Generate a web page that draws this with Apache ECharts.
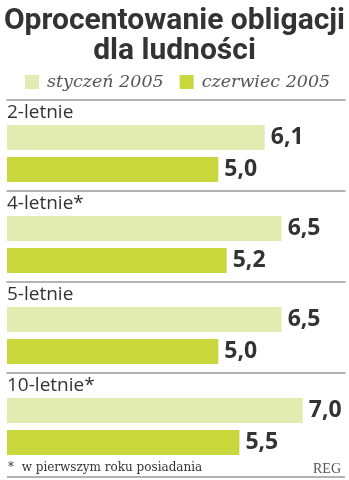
<!DOCTYPE html>
<html>
<head>
<meta charset="utf-8">
<script src="https://cdn.jsdelivr.net/npm/echarts@6/dist/echarts.min.js"></script>
<style>
  html, body { margin: 0; padding: 0; background: #fff; }
  #chart { width: 349px; height: 480px; }
</style>
</head>
<body>
<div id="chart"></div>
<script>
// Bond maturities and their rates (%)
const categories = ['2-letnie', '4-letnie*', '5-letnie', '10-letnie*'];
const seriesNames = ['styczeń 2005', 'czerwiec 2005'];
const january = [6.1, 6.5, 6.5, 7.0];
const june = [5.0, 5.2, 5.0, 5.5];

const colors = ['#e3ecb0', '#c8d83c'];
const textColor = '#333333';

// Layout of the stacked panels (one grid per maturity)
const panelLeft = 7;
const panelRight = 4;
const firstTop = 125;
const pitch = 91;
const barW = 25;
const panelH = 57;

const chart = echarts.init(document.getElementById('chart'));

const grids = [], xAxes = [], yAxes = [], series = [];
const fmt = p => p.value.toFixed(1).replace('.', ',');

categories.forEach((cat, i) => {
  grids.push({ left: panelLeft, right: panelRight, top: firstTop + i * pitch, height: panelH });
  xAxes.push({
    gridIndex: i, type: 'value', min: 0, max: 8, position: 'top', offset: 25,
    axisLine: { show: true, lineStyle: { color: '#9a9a9a', width: 1.5 } },
    axisTick: { show: false }, axisLabel: { show: false }, splitLine: { show: false }
  });
  yAxes.push({
    gridIndex: i, type: 'category', data: [cat], inverse: true,
    axisLine: { show: false }, axisTick: { show: false }, axisLabel: { show: false },
    name: cat, nameLocation: 'start', nameGap: 3,
    nameTextStyle: { align: 'left', verticalAlign: 'bottom', fontFamily: 'Open Sans', fontSize: 19, color: textColor, padding: 0 }
  });
  [january, june].forEach((arr, s) => {
    series.push({
      name: seriesNames[s], type: 'bar', xAxisIndex: i, yAxisIndex: i,
      data: [arr[i]], barWidth: barW, barGap: '28%',
      itemStyle: { color: colors[s] },
      label: { show: true, position: 'right', distance: 6, formatter: fmt,
        fontFamily: 'Noto Sans', fontWeight: 'bold', fontSize: 23, color: textColor },
      silent: true, animation: false
    });
  });
});

chart.setOption({
  animation: false,
  color: colors,
  title: [
    { text: 'Oprocentowanie obligacji\ndla ludności', left: 'center', top: 1,
      textStyle: { fontFamily: 'Roboto', fontWeight: 'bold', fontSize: 30, lineHeight: 30, color: textColor } },
    { text: '*  w pierwszym roku posiadania', left: 3, top: 457,
      textStyle: { fontFamily: 'DejaVu Serif', fontWeight: 'normal', fontSize: 12, color: textColor } },
    { text: 'REG', right: 3, top: 457,
      textStyle: { fontFamily: 'Liberation Serif', fontWeight: 'normal', fontSize: 14, color: '#555' } }
  ],
  legend: {
    data: seriesNames, left: 25, top: 73, padding: 0, icon: 'rect', itemWidth: 14, itemHeight: 14, itemGap: 16,
    textStyle: { fontFamily: 'DejaVu Serif', fontStyle: 'italic', fontSize: 17.5, color: '#555', padding: [0, 0, 0, 3] },
    selectedMode: false
  },
  grid: grids, xAxis: xAxes, yAxis: yAxes, series: series,
  graphic: [{
    type: 'line', shape: { x1: panelLeft, y1: 477, x2: 349 - panelRight, y2: 477 },
    style: { stroke: '#9a9a9a', lineWidth: 1.5 }
  }]
});
</script>
</body>
</html>
